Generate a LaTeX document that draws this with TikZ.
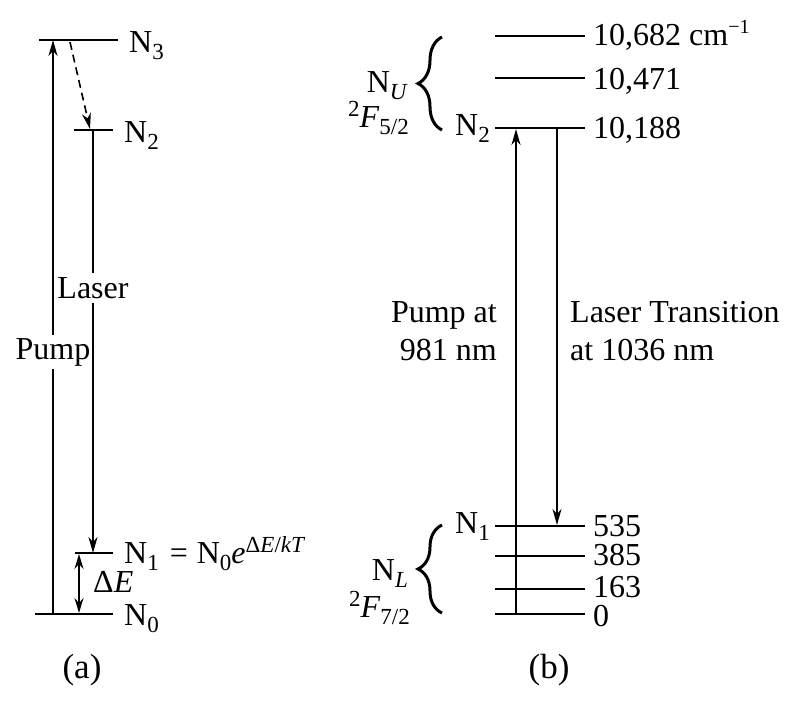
\documentclass[tikz,border=0pt]{standalone}
\usepackage{fontspec}
\setmainfont{Liberation Serif}
\usetikzlibrary{arrows.meta,decorations.pathreplacing}
\newcommand\dnx[1]{\raisebox{-7pt}{\fontsize{23}{23}\selectfont #1}}
\newcommand\upx[1]{\raisebox{11pt}{\fontsize{23}{23}\selectfont #1}}
\begin{document}
\begin{tikzpicture}[x=1pt,y=-1pt,
  level/.style={line width=1.9pt},
  trans/.style={line width=1.6pt},
  tip/.style={-{Stealth[length=16pt,width=9pt,inset=5pt]}},
  dtip/.style={{Stealth[length=15pt,width=9pt,inset=5pt]}-{Stealth[length=15pt,width=9pt,inset=5pt]}},
  lbl/.style={inner sep=0pt,font=\fontsize{32}{38}\selectfont},
  captxt/.style={inner sep=0pt,font=\fontsize{35}{40}\selectfont},
  brc/.style={decorate,decoration={brace,amplitude=24pt},line width=3pt},
]
\useasboundingbox (0,0) rectangle (800,707);

% ---------------- (a) ----------------
\coordinate (a3l) at (39,40);  \coordinate (a3r) at (118,40);
\coordinate (a2l) at (74,130); \coordinate (a2r) at (113,130);
\coordinate (a1l) at (75,553); \coordinate (a1r) at (113,553);
\coordinate (a0l) at (35,614); \coordinate (a0r) at (113,614);
\draw[level] (a3l) -- (a3r);
\draw[level] (a2l) -- (a2r);
\draw[level] (a1l) -- (a1r);
\draw[level] (a0l) -- (a0r);

\node[lbl,anchor=base west] (a3t) at (129,52) {N\dnx{3}};
\node[lbl,anchor=base west] (a2t) at (124,142) {N\dnx{2}};
\node[lbl,anchor=base west] (a1t) at (124,563) {N\dnx{1}\hspace{11pt}=\hspace{9pt}N\dnx{0}\textit{e}\upx{Δ\textit{E}/\textit{kT}}};
\node[lbl,anchor=base west] (a0t) at (124,625) {N\dnx{0}};
\node[lbl,anchor=base west] (det) at (93,592) {Δ\textit{E}};

% pump (a)
\coordinate (pa0) at (53,614);
\coordinate (pa3) at (53,40);
\node[lbl,anchor=base,inner ysep=3pt] (pumpA) at (53,359) {Pump};
\draw[trans] (pa0) -- (pumpA.south);
\draw[trans,tip] (pumpA.north) -- (pa3);

% laser (a)
\coordinate (la2) at (93,130);
\coordinate (la1) at (93,553);
\node[lbl,anchor=base,inner ysep=4pt] (laserA) at (93,298) {Laser};
\draw[trans] (la2) -- (laserA.north);
\draw[trans,tip] (laserA.south) -- (la1);

% nonradiative decay
\coordinate (d3) at (70,42);
\coordinate (d2) at (90,129);
\draw[trans,tip,dash pattern=on 8pt off 5pt] (d3) -- (d2);

% delta E
\coordinate (de1) at (79,554);
\coordinate (de0) at (79,613);
\draw[trans,dtip] (de1) -- (de0);

\node[captxt,anchor=base] (capa) at (82,678) {(a)};

% ---------------- (b) ----------------
\coordinate (u3l) at (495,36);  \coordinate (u3r) at (585,36);
\coordinate (u2l) at (495,78);  \coordinate (u2r) at (585,78);
\coordinate (u1l) at (495,128); \coordinate (u1r) at (585,128);
\coordinate (l4l) at (495,526); \coordinate (l4r) at (585,526);
\coordinate (l3l) at (495,556); \coordinate (l3r) at (585,556);
\coordinate (l2l) at (495,589); \coordinate (l2r) at (585,589);
\coordinate (l1l) at (495,614); \coordinate (l1r) at (585,614);
\foreach \p in {u3,u2,u1,l4,l3,l2,l1} \draw[level] (\p l) -- (\p r);

\node[lbl,anchor=base west] (e1) at (593,45) {10,682 cm\raisebox{12pt}{\fontsize{20}{20}\selectfont −1}};
\node[lbl,anchor=base west] (e2) at (593,89) {10,471};
\node[lbl,anchor=base west] (e3) at (593,138) {10,188};
\node[lbl,anchor=base west] (e4) at (593,536) {535};
\node[lbl,anchor=base west] (e5) at (593,565) {385};
\node[lbl,anchor=base west] (e6) at (593,597) {163};
\node[lbl,anchor=base west] (e7) at (593,626) {0};

\node[lbl,anchor=base west] (bn2) at (455,135) {N\dnx{2}};
\node[lbl,anchor=base west] (bn1) at (455,533) {N\dnx{1}};

% braces
\coordinate (bu0) at (442,130); \coordinate (bu1) at (442,37);
\coordinate (bl0) at (442,613); \coordinate (bl1) at (442,525);
\draw[brc] (bu0) -- (bu1);
\draw[brc] (bl0) -- (bl1);

\node[lbl,anchor=base east] (nu) at (408,92) {N\dnx{\textit{U}}};
\node[lbl,anchor=base east] (f52) at (409,127) {\upx{2}\textit{F}\dnx{5/2}};
\node[lbl,anchor=base east] (nl) at (408,580) {N\dnx{\textit{L}}};
\node[lbl,anchor=base east] (f72) at (410,617) {\upx{2}\textit{F}\dnx{7/2}};

% pump & laser (b)
\coordinate (pb0) at (516,614); \coordinate (pb2) at (516,129);
\coordinate (lb2) at (557,129); \coordinate (lb1) at (557,525);
\draw[trans,tip] (pb0) -- (pb2);
\draw[trans,tip] (lb2) -- (lb1);

\node[lbl,anchor=base east] (pt1) at (497,322) {Pump at};
\node[lbl,anchor=base east] (pt2) at (497,360) {981 nm};
\node[lbl,anchor=base west] (lt1) at (570,322) {Laser Transition};
\node[lbl,anchor=base west] (lt2) at (570,360) {at 1036 nm};

\node[captxt,anchor=base] (capb) at (549,678) {(b)};
\end{tikzpicture}
\end{document}
